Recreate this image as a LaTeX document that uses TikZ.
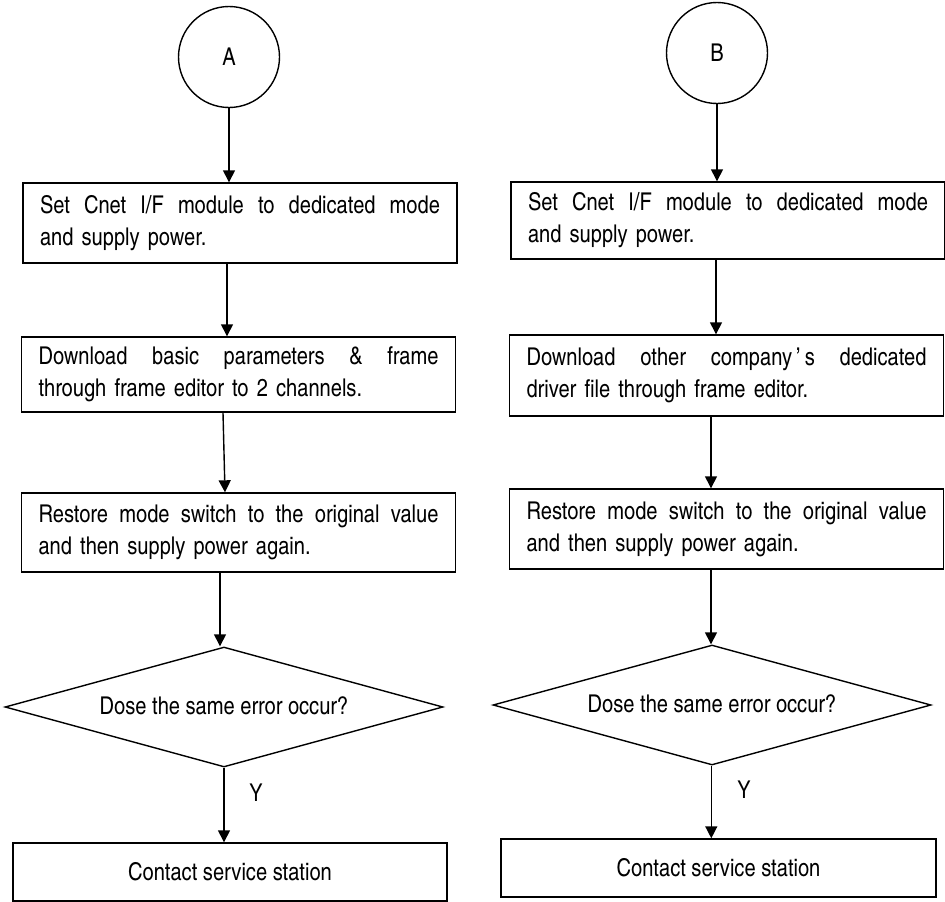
\documentclass[tikz,border=0pt]{standalone}
\usepackage{fontspec}
\setmainfont{texgyreheroscn-regular.otf}
\usetikzlibrary{arrows.meta,shapes.geometric}
\newcommand{\jline}[1]{\makebox[400pt][s]{\spaceskip=\fontdimen2\font plus 1fil\relax #1}}
\begin{document}
\begin{tikzpicture}[x=1pt,y=-1pt,
  every node/.style={font=\fontsize{24.5}{32}\selectfont},
  box/.style={draw, line width=1.4pt, rectangle, inner xsep=17pt, inner ysep=0pt,
              text width=400pt, align=left},
  endbox/.style={draw, line width=1.4pt, rectangle, inner sep=0pt, align=center},
  conn/.style={draw, line width=1.4pt, circle, inner sep=0pt, minimum size=101pt},
  decision/.style={draw, line width=1.4pt, diamond, inner sep=0pt, aspect=3.65,
                   minimum width=438pt, minimum height=120pt},
  flow/.style={line width=1.4pt, -{Triangle[width=12pt,length=12pt]}}]
\useasboundingbox (0,0) rectangle (945,902);

% left column
\node[conn] (A) at (229,57) {\raisebox{-4pt}{A}};
\node[box, minimum height=80pt] (L1) at (240,223)
  {\jline{Set Cnet I/F module to dedicated mode}\\and supply power.};
\node[box, minimum height=75pt] (L2) at (238.5,374.5)
  {\jline{Download basic parameters \& frame}\\through frame editor to 2 channels.};
\node[box, minimum height=79pt] (L3) at (238.5,532.5)
  {\jline{Restore mode switch to the original value}\\and then supply power again.};
\node[decision] (LD) at (224,707) {\raisebox{3pt}{Dose the same error occur?}};
\node[endbox, minimum width=434pt, minimum height=58pt] (LC) at (230,872) {Contact service station};
\node (LY) at (256,793) {Y};

\draw[flow] (A.south) -- ([xshift=-11pt]L1.north);
\draw[flow] ([xshift=-13pt]L1.south) -- ([xshift=-11.5pt]L2.north);
\draw[flow] ([xshift=-15.5pt]L2.south) -- ([xshift=-13.5pt]L3.north);
\draw[flow] ([xshift=-18.5pt]L3.south) -- ([xshift=-4pt]LD.north);
\draw[flow] (LD.south) -- (LD.south |- LC.north);

% right column
\node[conn] (B) at (717,53) {\raisebox{-2pt}{B}};
\node[box, minimum height=77pt] (R1) at (728,220.5)
  {\jline{Set Cnet I/F module to dedicated mode}\\and supply power.};
\node[box, minimum height=81pt] (R2) at (726.5,375.5)
  {\jline{Download other company\,’\,s dedicated}\\driver file through frame editor.};
\node[box, minimum height=80pt] (R3) at (726.5,529)
  {\jline{Restore mode switch to the original value}\\and then supply power again.};
\node[decision] (RD) at (712,705) {\raisebox{3pt}{Dose the same error occur?}};
\node[endbox, minimum width=435pt, minimum height=58pt] (RC) at (718.5,868) {Contact service station};
\node (RY) at (744,790) {Y};

\draw[flow] (B.south) -- ([xshift=-11pt]R1.north);
\draw[flow] ([xshift=-12pt]R1.south) -- ([xshift=-10.5pt]R2.north);
\draw[flow] ([xshift=-15.5pt]R2.south) -- ([xshift=-15.5pt]R3.north);
\draw[flow] ([xshift=-15.5pt]R3.south) -- ([xshift=-1pt]RD.north);
\draw[flow] ([xshift=-0.7pt]RD.south) -- ([xshift=-0.7pt]RD.south |- RC.north);
\end{tikzpicture}
\end{document}
